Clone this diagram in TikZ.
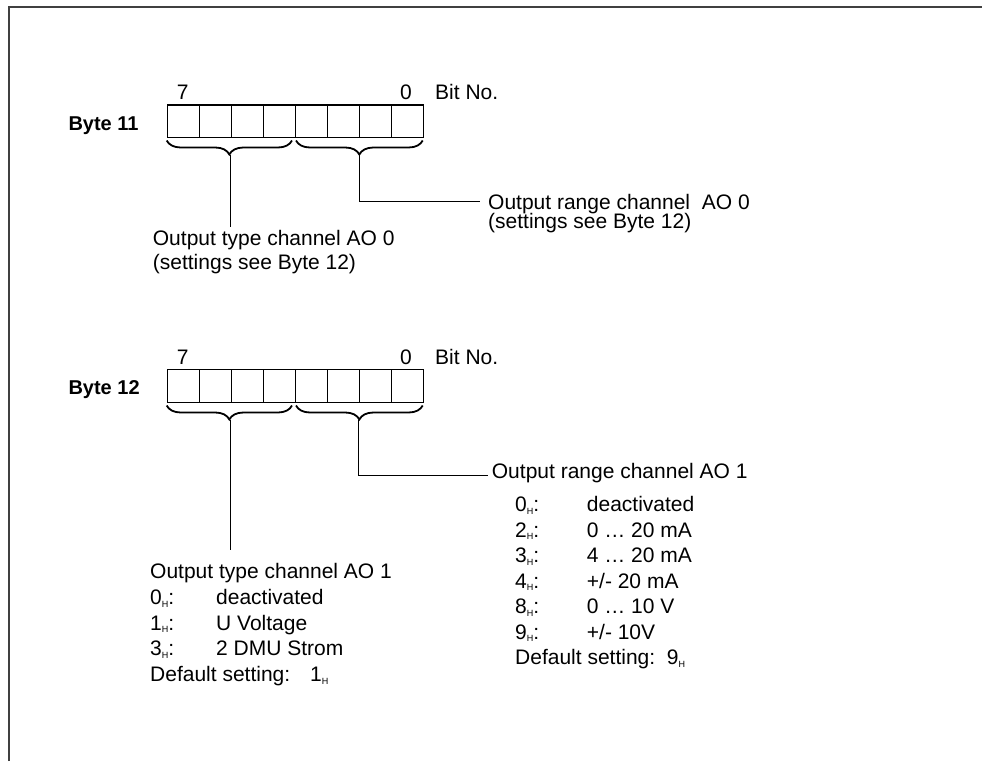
\documentclass[tikz,border=0pt]{standalone}
\usepackage{fontspec}
\setmainfont{Liberation Sans}
\usetikzlibrary{decorations.pathreplacing}
\newcommand\hsub{\raisebox{-2.5pt}{\fontsize{9}{9}\selectfont H}}
\begin{document}
\begin{tikzpicture}[x=1pt,y=-1pt,
  txt/.style={anchor=base west,inner sep=0pt,font=\fontsize{21}{25}\selectfont},
  boldlbl/.style={anchor=base west,inner sep=0pt,font=\fontsize{20}{24}\selectfont\bfseries},
  cell/.style={draw,line width=1.2pt,minimum width=32pt,minimum height=32.5pt,inner sep=0pt,anchor=north west},
  brc/.style={decorate,decoration={brace,amplitude=14pt},line width=1.8pt},
  conn/.style={line width=1pt},
  frameline/.style={line width=2pt,draw=black!75}]
\useasboundingbox (0,0) rectangle (982,761);
% frame
\coordinate (fc) at (9,6.5);
\coordinate (fr) at (982,6.5);
\coordinate (fb) at (9,761);
\draw[frameline] (fb) -- (fc) -- (fr);

% ---------- Byte 11 ----------
\node[boldlbl] (byte11) at (68.3,130) {Byte 11};
\node[txt] (b11hi) at (176.7,99.3) {7};
\node[txt] (b11lo) at (400,99.3) {0};
\node[txt] (b11bit) at (435,99.3) {Bit No.};
\foreach \i in {0,...,7} \node[cell] (a\i) at ({166.7+32*\i},104.3) {};
\draw[brc] (292,140.5) -- (166.7,140.5);
\draw[brc] (422.7,140.5) -- (296,140.5);
\coordinate (tipA) at (230,155);
\coordinate (tipB) at (359.5,155);
\coordinate (endA) at (230,226.7);
\coordinate (endB) at (480,201);
\draw[conn] (tipA) -- (endA);
\draw[conn] (tipB) |- (endB);
\node[txt] (t11a1) at (152.7,245) {Output type channel AO 0};
\node[txt] (t11a2) at (152.7,269) {(settings see Byte 12)};
\node[txt] (t11b1) at (488,209) {Output range channel\ \ AO 0};
\node[txt] (t11b2) at (488,228.5) {(settings see Byte 12)};

% ---------- Byte 12 ----------
\node[boldlbl] (byte12) at (68.3,394.3) {Byte 12};
\node[txt] (b12hi) at (176.7,364.3) {7};
\node[txt] (b12lo) at (400,364.3) {0};
\node[txt] (b12bit) at (435,364.3) {Bit No.};
\foreach \i in {0,...,7} \node[cell] (c\i) at ({166.7+32*\i},369) {};
\draw[brc] (292,405.5) -- (166.7,405.5);
\draw[brc] (422.7,405.5) -- (296,405.5);
\coordinate (tipC) at (230,420);
\coordinate (tipD) at (358.7,420);
\coordinate (endC) at (230,550);
\coordinate (endD) at (488.3,475);
\draw[conn] (tipC) -- (endC);
\draw[conn] (tipD) |- (endD);

% left list
\node[txt] (lt) at (150,578.3) {Output type channel AO 1};
\node[txt] (l0k) at (150,604.8) {0\hsub:};
\node[txt] (l0v) at (216,604.8) {deactivated};
\node[txt] (l1k) at (150,630.3) {1\hsub:};
\node[txt] (l1v) at (216,630.3) {U Voltage};
\node[txt] (l3k) at (150,655.8) {3\hsub:};
\node[txt] (l3v) at (216,655.8) {2 DMU Strom};
\node[txt] (ldf) at (150,681.5) {Default setting:};
\node[txt] (ldv) at (310,681.5) {1\hsub};

% right list
\node[txt] (rt) at (491.7,478.5) {Output range channel AO 1};
\node[txt] (r0k) at (515,511.7) {0\hsub:};
\node[txt] (r0v) at (586.7,511.7) {deactivated};
\node[txt] (r2k) at (515,537.2) {2\hsub:};
\node[txt] (r2v) at (586.7,537.2) {0 … 20 mA};
\node[txt] (r3k) at (515,562.7) {3\hsub:};
\node[txt] (r3v) at (586.7,562.7) {4 … 20 mA};
\node[txt] (r4k) at (515,588.2) {4\hsub:};
\node[txt] (r4v) at (586.7,588.2) {+/- 20 mA};
\node[txt] (r8k) at (515,613.7) {8\hsub:};
\node[txt] (r8v) at (586.7,613.7) {0 … 10 V};
\node[txt] (r9k) at (515,639.2) {9\hsub:};
\node[txt] (r9v) at (586.7,639.2) {+/- 10V};
\node[txt] (rdf) at (515,664.8) {Default setting:};
\node[txt] (rdv) at (666.7,664.8) {9\hsub};
\end{tikzpicture}
\end{document}
